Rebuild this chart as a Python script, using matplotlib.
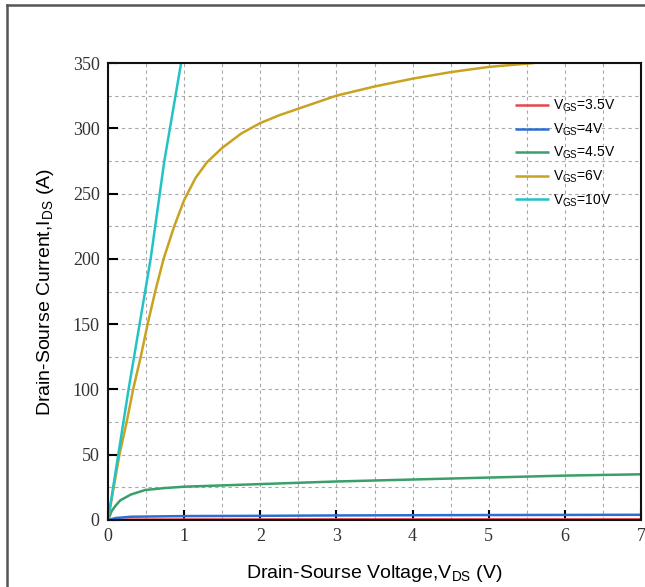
import matplotlib
matplotlib.use("Agg")
import matplotlib.pyplot as plt
from matplotlib.ticker import MultipleLocator
from matplotlib.lines import Line2D

# ---- data ----
vds_35 = [0, 0.3, 1, 3, 7]
ids_35 = [0, 0.3, 0.4, 0.5, 0.5]

vds_4 = [0, 0.1, 0.3, 1, 2, 3, 5, 7]
ids_4 = [0, 1.5, 2.5, 3.0, 3.2, 3.5, 3.8, 4.0]

vds_45 = [0, 0.05, 0.1, 0.16, 0.3, 0.49, 0.75, 1, 1.5, 2, 3, 4, 5, 6, 7]
ids_45 = [0, 7, 11, 15, 19.5, 23, 24.5, 25.5, 26.5, 27.5, 29.5, 31, 32.5, 34, 35]

vds_6 = [0, 0.15, 0.245, 0.33, 0.43, 0.52, 0.62, 0.73, 0.87, 1.0, 1.15, 1.3, 1.5,
         1.75, 2.0, 2.25, 2.5, 2.75, 3.0, 3.5, 4.0, 4.5, 5.0, 5.6]
ids_6 = [0, 50, 75, 100, 125, 150, 175, 200, 225, 245, 262, 274, 285,
         296, 304, 310, 315, 320, 325, 332, 338, 343, 347, 350]

vds_10 = [0, 0.27, 0.56, 0.74, 0.96]
ids_10 = [0, 100, 200, 275, 350]

labels = ["V$_\\mathregular{GS}$=3.5V", "V$_\\mathregular{GS}$=4V",
          "V$_\\mathregular{GS}$=4.5V", "V$_\\mathregular{GS}$=6V",
          "V$_\\mathregular{GS}$=10V"]
colors = ["#e5474f", "#2b6fd4", "#3a9f68", "#c9a21f", "#22c3c6"]

x_ticks = [0, 1, 2, 3, 4, 5, 6, 7]
y_ticks = [0, 50, 100, 150, 200, 250, 300, 350]

# ---- figure ----
fig = plt.figure(figsize=(6.45, 5.87), dpi=100)
ax = fig.add_axes([108/645, 1-520/587, (641-108)/645, (520-63)/587])

series = [(vds_35, ids_35), (vds_4, ids_4), (vds_45, ids_45), (vds_6, ids_6), (vds_10, ids_10)]
for (x, y), c, lab in zip(series, colors, labels):
    ax.plot(x, y, color=c, lw=1.8, label=lab, solid_capstyle="butt", solid_joinstyle="round")

ax.set_xlim(0, 7)
ax.set_ylim(0, 350)
ax.set_xticks(x_ticks)
ax.set_yticks(y_ticks)
ax.xaxis.set_minor_locator(MultipleLocator(0.5))
ax.yaxis.set_minor_locator(MultipleLocator(25))
ax.grid(True, which="both", linestyle=(0, (3, 3)), color="#a8a8a8", lw=0.8)
ax.tick_params(which="major", direction="in", length=7, width=1.5, top=False, right=False,
               labelsize=13, pad=6)
ax.tick_params(which="minor", length=0)
for lab in ax.get_xticklabels() + ax.get_yticklabels():
    lab.set_fontfamily("Liberation Serif")
    lab.set_color("#333333")
for s in ax.spines.values():
    s.set_linewidth(1.5)
    s.set_color("#111111")

ax.set_xlabel("Drain-Sourse Voltage,V$_\\mathregular{DS}$ (V)", fontfamily="Liberation Sans",
              fontsize=14, labelpad=13)
ax.set_ylabel("Drain-Sourse Current,I$_\\mathregular{DS}$ (A)", fontfamily="Liberation Sans",
              fontsize=14, labelpad=12)

leg = ax.legend(loc="upper right", bbox_to_anchor=(0.962, 0.936), frameon=False,
                prop={"family": "Liberation Sans", "size": 10}, handlelength=2.4,
                handletextpad=0.3, labelspacing=0.52, borderaxespad=0.0)

# figure border lines (screenshot frame)
fig.add_artist(Line2D([7/645, 7/645], [0, 1-5/587], color="#555555", lw=1.8))
fig.add_artist(Line2D([7/645, 1], [1-5/587, 1-5/587], color="#555555", lw=1.8))

fig.savefig("out.png", dpi=100)
